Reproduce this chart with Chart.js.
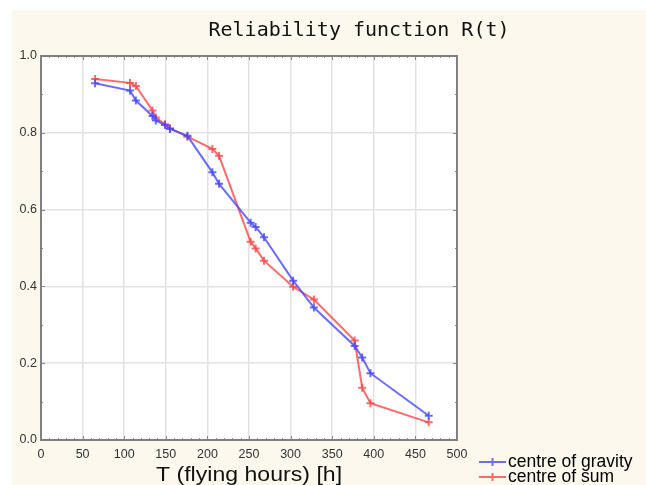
<!DOCTYPE html>
<html>
<head>
<meta charset="utf-8">
<script src="https://cdn.jsdelivr.net/npm/chart.js@4"></script>
<style>
	html, body { margin: 0; padding: 0; background: #fff; }
	#wrap { width: 646px; height: 485px; }
</style>
</head>
<body>
<div id="wrap"><canvas id="chart_reliability" width="646" height="485"></canvas></div>
<script>
	// flying hours (same for both series)
	let horas = [65, 107, 114, 134, 138, 149, 155, 176, 206, 214, 252, 258, 268, 303, 328, 377, 386, 396, 466];
	// R(t) centre of gravity
	let gravedad = [0.929, 0.910, 0.884, 0.844, 0.832, 0.820, 0.810, 0.792, 0.697, 0.667, 0.566, 0.555, 0.528, 0.415, 0.345, 0.245, 0.215, 0.174, 0.063];
	// R(t) centre of sum
	let suma = [0.940, 0.930, 0.922, 0.858, 0.840, 0.822, 0.812, 0.790, 0.758, 0.740, 0.516, 0.499, 0.467, 0.399, 0.366, 0.259, 0.136, 0.096, 0.046];
	let nombres = ['centre of gravity', 'centre of sum'];
	let titulo = 'Reliability function R(t)';
	let tituloX = 'T (flying hours) [h]';

	let azul = 'rgba(70,70,255,0.8)';
	let rojo = 'rgba(255,70,70,0.8)';

	let puntos = (xs, ys) => xs.map((x, i) => ({x: x, y: ys[i]}));

	// fondo, marco, titulos y leyenda
	let decoracion = {
		id: 'decoracion',
		beforeDraw(chart) {
			let c = chart.ctx;
			let a = chart.chartArea;
			c.save();
			c.fillStyle = '#fcf8ee';
			c.fillRect(12, 10, chart.width - 12, chart.height - 10);
			c.fillStyle = '#ffffff';
			c.fillRect(a.left, a.top, a.right - a.left, a.bottom - a.top);
			c.restore();
		},
		afterDraw(chart) {
			let c = chart.ctx;
			let a = chart.chartArea;
			let sx = chart.scales.x;
			let sy = chart.scales.y;
			c.save();
			// ticks menores
			c.strokeStyle = '#888';
			c.lineWidth = 1;
			c.beginPath();
			for (let t = 0; t <= 500; t += 10) {
				let px = Math.round(sx.getPixelForValue(t)) + 0.5;
				let l = (t % 50 == 0) ? 4 : 2;
				c.moveTo(px, a.bottom); c.lineTo(px, a.bottom - l);
				c.moveTo(px, a.top); c.lineTo(px, a.top + l);
			}
			for (let k = 0; k <= 10; k++) {
				let py = Math.round(sy.getPixelForValue(k / 10)) + 0.5;
				let l = (k % 2 == 0) ? 4 : 2;
				c.moveTo(a.left, py); c.lineTo(a.left + l, py);
				c.moveTo(a.right, py); c.lineTo(a.right - l, py);
			}
			c.stroke();
			// marco
			c.strokeStyle = '#808080';
			c.lineWidth = 2;
			c.strokeRect(a.left, a.top, a.right - a.left, a.bottom - a.top);

			// titulo
			c.fillStyle = '#111';
			c.font = '20px "DejaVu Sans Mono"';
			c.textAlign = 'center';
			c.textBaseline = 'middle';
			c.fillText(titulo, 359, 31);

			// titulo eje x
			c.save();
			c.translate((a.left + a.right) / 2, 475);
			c.scale(1.1, 1);
			c.font = '21px "Liberation Sans"';
			c.fillText(tituloX, 0, 0);
			c.restore();

			// leyenda
			let filas = [[nombres[0], azul, 462], [nombres[1], rojo, 477]];
			filas.map(f => {
				c.strokeStyle = f[1];
				c.lineWidth = 2;
				c.beginPath();
				c.moveTo(479, f[2]); c.lineTo(506, f[2]);
				c.moveTo(492.5, f[2] - 4); c.lineTo(492.5, f[2] + 4);
				c.stroke();
				c.fillStyle = '#000';
				c.font = '17.5px "Liberation Sans"';
				c.textAlign = 'left';
				c.fillText(f[0], 508, f[2]);
			});
			c.restore();
		}
	};

	let ctx = document.getElementById('chart_reliability');
	let data = {
		datasets: [
			{
				label: nombres[0],
				data: puntos(horas, gravedad),
				borderColor: azul,
				backgroundColor: azul,
				borderWidth: 2,
				pointStyle: 'cross',
				pointRadius: 4,
				pointBorderWidth: 2
			},
			{
				label: nombres[1],
				data: puntos(horas, suma),
				borderColor: rojo,
				backgroundColor: rojo,
				borderWidth: 2,
				pointStyle: 'cross',
				pointRadius: 4,
				pointBorderWidth: 2
			}
		]
	};

	let options = {
		responsive: false,
		animation: false,
		layout: { padding: { left: 0, top: 56, right: 189, bottom: 0 } },
		plugins: { legend: { display: false }, tooltip: { enabled: false } },
		scales: {
			x: {
				type: 'linear',
				min: 0,
				max: 500,
				afterFit: s => { s.height = 45; },
				border: { display: false },
				grid: { color: '#e2e2e2', lineWidth: 1.5, drawTicks: false },
				ticks: { stepSize: 50, padding: 7, color: '#333', font: { family: 'Liberation Sans', size: 12.5 } }
			},
			y: {
				min: 0,
				max: 1,
				afterFit: s => { s.width = 41; },
				border: { display: false },
				grid: { color: '#e2e2e2', lineWidth: 1.5, drawTicks: false },
				ticks: { stepSize: 0.2, padding: 4, color: '#333', font: { family: 'Liberation Sans', size: 12.5 }, callback: v => v.toFixed(1) }
			}
		}
	};

	let myLineChart = new Chart(ctx, {
		type: 'line',
		data: data,
		options: options,
		plugins: [decoracion]
	});
</script>
</body>
</html>
